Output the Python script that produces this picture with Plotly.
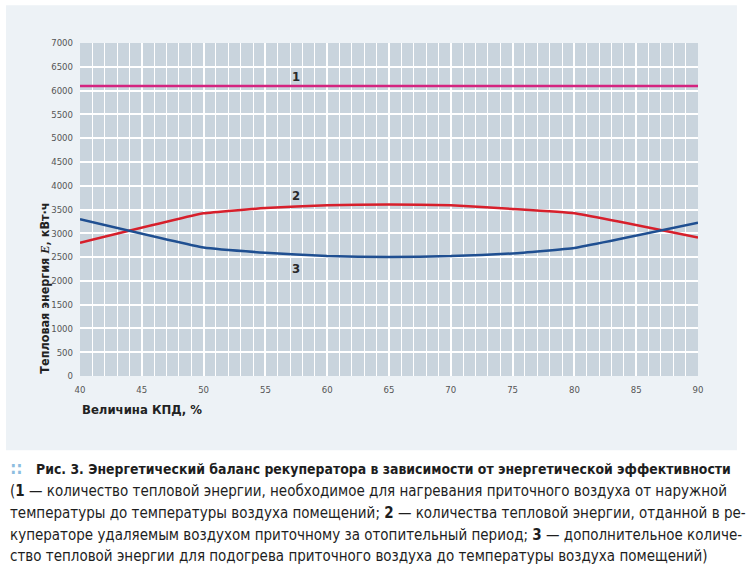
import plotly.graph_objects as go

# %% data
kpd = [40, 50, 55, 60, 65, 70, 75, 80, 90]                       # КПД, %
e_total = [6095, 6095, 6095, 6095, 6095, 6095, 6095, 6095, 6095]  # 1
e_recup = [2800, 3420, 3530, 3590, 3605, 3590, 3510, 3420, 2910]  # 2
e_heat = [3295, 2700, 2590, 2520, 2500, 2520, 2575, 2690, 3220]   # 3

curve_names = ['1', '2', '3']
label_x = [57.5, 57.5, 57.5]
label_y = [6300, 3790, 2260]

caption_lines = [
    '<b>Рис. 3. Энергетический баланс рекуператора в зависимости от энергетической эффективности</b>',
    '(<b>1</b> — количество тепловой энергии, необходимое для нагревания приточного воздуха от наружной',
    'температуры до температуры воздуха помещений; <b>2</b> — количества тепловой энергии, отданной в ре-',
    'куператоре удаляемым воздухом приточному за отопительный период; <b>3</b> — дополнительное количе-',
    'ство тепловой энергии для подогрева приточного воздуха до температуры воздуха помещений)',
]

FONT = 'DejaVu Sans Condensed, Liberation Sans Narrow, Roboto, sans-serif'

# %% figure
fig = go.Figure()
colors = ['#d4237f', '#d71f2b', '#1f4f91']
for ys, c in zip([e_total, e_recup, e_heat], colors):
    fig.add_trace(go.Scatter(x=kpd, y=ys, mode='lines', line=dict(color=c, width=2.5, shape='spline', smoothing=0.3),
                             hoverinfo='x+y', showlegend=False))

# labels 1, 2, 3 on the curves
for t, lx, ly in zip(curve_names, label_x, label_y):
    fig.add_annotation(x=lx, y=ly, text='<b>' + t + '</b>', showarrow=False,
                       font=dict(family=FONT, size=13, color='#2a2a2a'))

# light panel behind the chart
fig.add_shape(type='rect', xref='paper', yref='paper', x0=-0.1197, x1=1.063, y0=-0.2231, y1=1.1132,
              fillcolor='#edf2f6', line_width=0, layer='below')
fig.add_shape(type='rect', xref='x', yref='y', x0=40, x1=90, y0=0, y1=7000,
              fillcolor='#c9d4dd', line_width=0, layer='below')

# axis titles
fig.add_annotation(xref='paper', yref='paper', x=-0.058, y=0, xanchor='center', yanchor='bottom',
                   textangle=-90, showarrow=False,
                   text='<b>Тепловая энергия <span style="font-family:Liberation Serif"><i>E</i></span>, кВт·ч</b>',
                   font=dict(family=FONT, size=12.5, color='#222222'))
fig.add_annotation(xref='paper', yref='paper', x=0, y=-0.1, xanchor='left', yanchor='middle',
                   showarrow=False, text='<b>Величина КПД, %</b>',
                   font=dict(family=FONT, size=13, color='#222222'))

# caption under the panel
cap_y = [469, 491, 513, 535, 556]
fig.add_annotation(xref='paper', yref='paper', x=(9 - 80) / 618, y=(375.7 - 469) / 333, xanchor='left', yanchor='middle',
                   showarrow=False, text='<b>∷</b>', font=dict(family=FONT, size=17, color='#8dbde0'))
for i, line in enumerate(caption_lines):
    px = 34 if i == 0 else 8
    fig.add_annotation(xref='paper', yref='paper', x=(px - 80) / 618, y=(375.7 - cap_y[i]) / 333,
                       xanchor='left', yanchor='middle', showarrow=False, text=line,
                       font=dict(family=FONT, size=13.9 if i == 0 else 15, color='#1e1e1e'))

fig.update_xaxes(range=[40, 90], dtick=5, tick0=40, showgrid=True, gridcolor='white', gridwidth=1.5,
                 minor=dict(dtick=1, showgrid=True, gridcolor='white', gridwidth=1.2),
                 zeroline=False, showline=False, ticks='', ticklabelstandoff=6,
                 tickfont=dict(family=FONT, size=9.5, color='#555555'))
fig.update_yaxes(range=[0, 7000], dtick=500, showgrid=True, gridcolor='white', gridwidth=1.5,
                 zeroline=False, showline=False, ticks='', ticklabelstandoff=6,
                 tickfont=dict(family=FONT, size=9.5, color='#555555'))

fig.update_layout(width=746, height=571, margin=dict(l=80, r=48, t=43, b=195, autoexpand=False),
                  paper_bgcolor='white', plot_bgcolor='#c9d4dd', font=dict(family=FONT))

# page has a default 8px body margin, drop it so the figure fills the window
fig.write_html("out.html", config={'displayModeBar': False},
               post_script="document.body.style.margin = '0';")
